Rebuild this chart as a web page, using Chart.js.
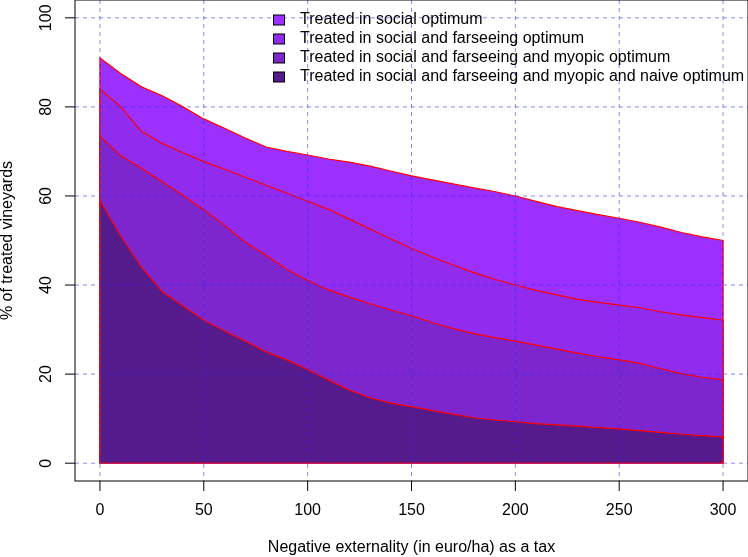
<!DOCTYPE html>
<html>
<head>
<meta charset="utf-8">
<script src="https://cdn.jsdelivr.net/npm/chart.js@4/dist/chart.umd.min.js"></script>
<style>
  html, body { margin: 0; padding: 0; background: #ffffff; }
  #wrap { width: 748px; height: 557px; }
</style>
</head>
<body>
<div id="wrap"><canvas id="c" width="748" height="557"></canvas></div>
<script>
// ---- Data ----
const taxLevels = [0,10,20,30,40,50,60,70,80,90,100,110,120,130,140,150,160,170,180,190,200,210,220,230,240,250,260,270,280,290,300];
const socialOptimum = [91,87.5,84.5,82.5,80,77.3,75.2,73,71,70,69.2,68.3,67.6,66.7,65.6,64.5,63.6,62.7,61.8,61,60,58.8,57.6,56.7,55.8,55,54.1,53,51.8,50.8,50];
const farseeingOptimum = [84,80,74.5,71.8,69.7,67.7,66,64.2,62.4,60.6,58.8,57,54.8,52.6,50.4,48.2,46.3,44.5,42.8,41.3,40,38.8,37.8,36.8,36.1,35.5,34.9,34,33.3,32.7,32.1];
const myopicOptimum = [73.5,69,66.2,63.2,60.1,56.9,53.4,49.6,46.7,43.5,41,38.9,37.3,35.8,34.4,33.1,31.6,30.2,29.1,28.2,27.4,26.5,25.6,24.7,23.9,23.2,22.4,21.2,20.1,19.3,18.7];
const naiveOptimum = [59,51,44,38.5,35.3,32.1,29.7,27.4,25,23.2,21,18.7,16.4,14.7,13.5,12.7,11.8,11,10.2,9.7,9.3,8.9,8.6,8.3,8,7.7,7.3,6.9,6.5,6.2,5.9];
const seriesLabels = [
  "Treated in social optimum",
  "Treated in social and farseeing optimum",
  "Treated in social and farseeing and myopic optimum",
  "Treated in social and farseeing and myopic and naive optimum"
];
const xTickLabels = [0,50,100,150,200,250,300];
const yTickLabels = [0,20,40,60,80,100];

// ---- Styles ----
const fillColors = ["#9B30FF", "#912CEE", "#7D26CD", "#551A8B"];
const FONT = '"Liberation Sans", Arial, Helvetica, sans-serif';
const xTitle = "Negative externality (in euro/ha) as a tax";
const yTitle = "% of treated vineyards";

function polygonPoints(values) {
  const pts = [{x: taxLevels[0], y: 0}];
  taxLevels.forEach((t, i) => pts.push({x: t, y: values[i]}));
  pts.push({x: taxLevels[taxLevels.length - 1], y: 0});
  return pts;
}

const allSeries = [socialOptimum, farseeingOptimum, myopicOptimum, naiveOptimum];
const datasets = allSeries.map((vals, i) => ({
  label: seriesLabels[i],
  data: polygonPoints(vals),
  backgroundColor: fillColors[i],
  borderColor: "#ff0000",
  borderWidth: 1.2,
  pointRadius: 0,
  tension: 0,
  fill: "origin",
  order: allSeries.length - i
}));

const rAxesPlugin = {
  id: "rAxes",
  afterDatasetsDraw(chart) {
    const ctx = chart.ctx;
    const xs = chart.scales.x, ys = chart.scales.y;
    const ca = chart.chartArea;
    ctx.save();

    // red base edge of polygons
    ctx.strokeStyle = "#ff0000";
    ctx.lineWidth = 1.2;
    ctx.beginPath();
    ctx.moveTo(xs.getPixelForValue(taxLevels[0]), ys.getPixelForValue(0));
    ctx.lineTo(xs.getPixelForValue(taxLevels[taxLevels.length - 1]), ys.getPixelForValue(0));
    ctx.stroke();

    // dashed grid on top
    ctx.strokeStyle = "rgba(40,40,255,0.55)";
    ctx.lineWidth = 1;
    ctx.setLineDash([4, 4]);
    xTickLabels.forEach(v => {
      const px = xs.getPixelForValue(v);
      ctx.beginPath(); ctx.moveTo(px, ca.top); ctx.lineTo(px, ca.bottom); ctx.stroke();
    });
    yTickLabels.forEach(v => {
      const py = ys.getPixelForValue(v);
      ctx.beginPath(); ctx.moveTo(ca.left, py); ctx.lineTo(ca.right, py); ctx.stroke();
    });
    ctx.setLineDash([]);

    // box
    ctx.strokeStyle = "#000";
    ctx.lineWidth = 1;
    ctx.strokeRect(ca.left, ca.top, ca.right - ca.left, ca.bottom - ca.top);

    // x ticks & labels
    ctx.fillStyle = "#000";
    ctx.font = "16px " + FONT;
    ctx.textAlign = "center";
    ctx.textBaseline = "middle";
    xTickLabels.forEach(v => {
      const px = xs.getPixelForValue(v);
      ctx.beginPath(); ctx.moveTo(px, ca.bottom); ctx.lineTo(px, ca.bottom + 10); ctx.stroke();
      ctx.fillText(String(v), px, ca.bottom + 30);
    });
    // y ticks & labels
    yTickLabels.forEach(v => {
      const py = ys.getPixelForValue(v);
      ctx.beginPath(); ctx.moveTo(ca.left, py); ctx.lineTo(ca.left - 10, py); ctx.stroke();
      ctx.save();
      ctx.translate(ca.left - 28.5, py);
      ctx.rotate(-Math.PI / 2);
      ctx.fillText(String(v), 0, 0);
      ctx.restore();
    });
    // titles
    ctx.fillText(xTitle, (ca.left + ca.right) / 2, ca.bottom + 67);
    ctx.save();
    ctx.translate(ca.left - 67, (ca.top + ca.bottom) / 2);
    ctx.rotate(-Math.PI / 2);
    ctx.fillText(yTitle, 0, 0);
    ctx.restore();

    // legend
    ctx.textAlign = "left";
    seriesLabels.forEach((lab, i) => {
      const yc = 20 + i * 19;
      ctx.fillStyle = fillColors[i];
      ctx.fillRect(273.5, yc - 5, 11, 10);
      ctx.strokeStyle = "#000";
      ctx.strokeRect(273.5, yc - 5, 11, 10);
      ctx.fillStyle = "#000";
      ctx.fillText(lab, 300, yc);
    });
    ctx.restore();
  }
};

new Chart(document.getElementById("c"), {
  type: "line",
  data: { datasets },
  options: {
    responsive: false,
    animation: false,
    devicePixelRatio: 1,
    layout: { padding: 0 },
    plugins: { legend: { display: false }, tooltip: { enabled: false }, title: { display: false } },
    scales: {
      x: {
        type: "linear", min: -12, max: 312,
        ticks: { display: false }, grid: { display: false }, border: { display: false },
        afterFit: s => { s.height = 76; }
      },
      y: {
        type: "linear", min: -4, max: 104,
        ticks: { display: false }, grid: { display: false }, border: { display: false },
        afterFit: s => { s.width = 75; }
      }
    }
  },
  plugins: [rAxesPlugin]
});
</script>
</body>
</html>
